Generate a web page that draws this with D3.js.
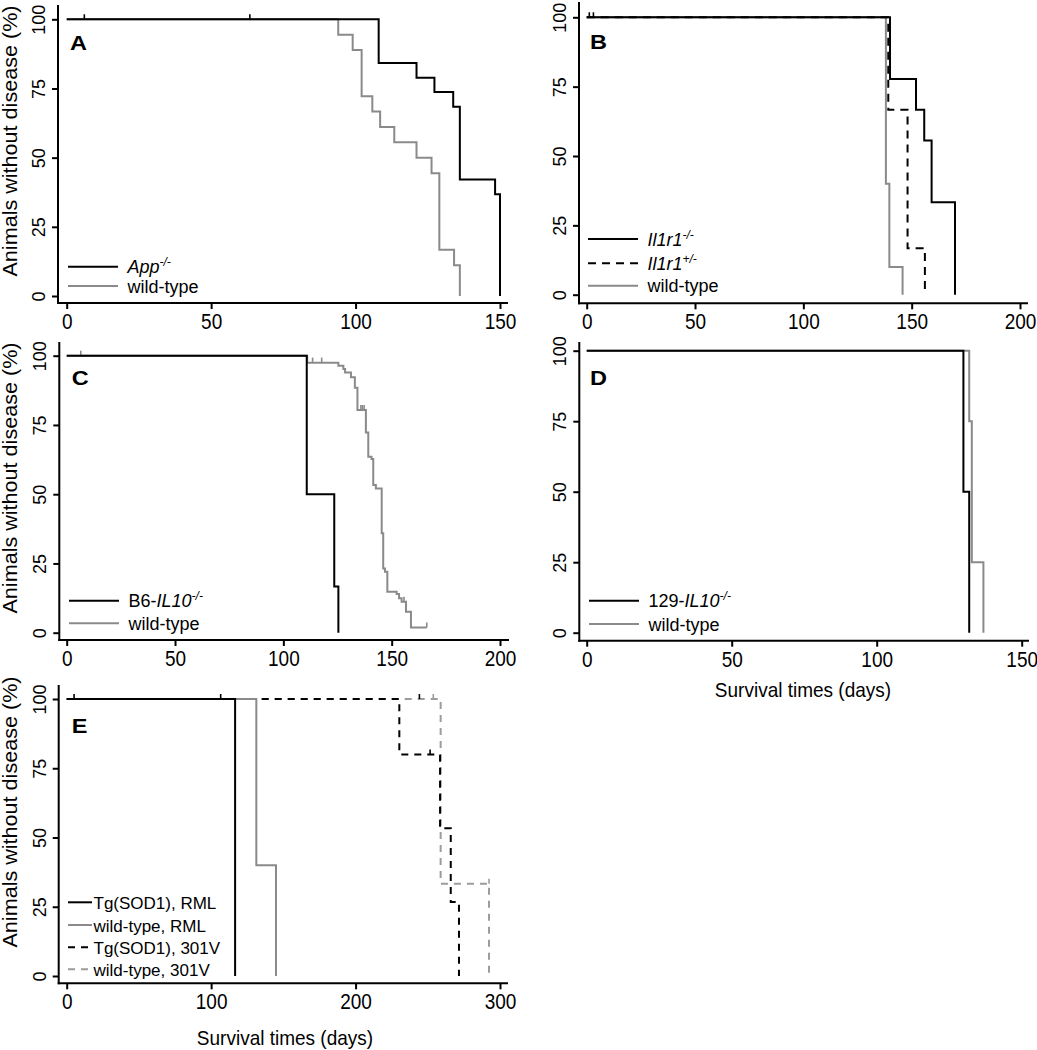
<!DOCTYPE html>
<html>
<head>
<meta charset="utf-8">
<script src="https://cdn.jsdelivr.net/npm/d3@7"></script>
<style>
body { margin: 0; background: #fff; }
text { font-family: "Liberation Sans", Arial, Helvetica, sans-serif; fill: #000; }
</style>
</head>
<body>
<div id="chart"></div>
<script>
// ---- data (days, % without disease) ----
// A
var aAppT = [0, 108, 121.1, 127.3, 133.8, 136.1, 148.3, 150];
var aAppS = [100, 84.2, 78.9, 73.7, 68.4, 42.1, 36.8, 0];
var aAppCens = [[6.1, 100], [63.4, 100]];
var aWtT = [0, 94, 99, 102.1, 105.8, 108.5, 113.4, 121.1, 126.3, 129, 134.1, 136.1];
var aWtS = [100, 94.4, 88.9, 72.2, 66.7, 61.1, 55.6, 50, 44.4, 16.7, 11.1, 0];
var aLabels = [[["App", "i"], ["-/-", "si"]], [["wild-type", ""]]];

// B
var bKoT = [0, 140, 152, 155.8, 159.2, 170];
var bKoS = [100, 77.8, 66.7, 55.6, 33.3, 0];
var bKoCens = [[1.2, 100], [3.1, 100]];
var bHetT = [0, 139.2, 148.1, 156.1];
var bHetS = [100, 66.7, 16.7, 0];
var bWtT = [0, 138.1, 139.7, 145.8];
var bWtS = [100, 40, 10, 0];
var bLabels = [[["Il1r1", "i"], ["-/-", "si"]], [["Il1r1", "i"], ["+/-", "si"]], [["wild-type", ""]]];

// C
var cKoT = [0, 110.8, 123.5, 125.4];
var cKoS = [100, 50, 16.7, 0];
var cWtT = [0, 111, 125.4, 127.7, 128.5, 131.2, 133.0, 134.2, 138.1, 139.2, 140.7, 141.5, 142.7,
            145.4, 146.1, 146.9, 148.0, 152.3, 153.4, 154.6, 156.6, 158.9, 166.2];
var cWtS = [100, 97.5, 96.4, 95.2, 93.9, 92.2, 88.4, 80.4, 72.3, 63.5, 62.7, 53.3, 52.1,
            35.9, 23.2, 22.0, 14.8, 14.0, 12.4, 11.2, 7.6, 1.9, 1.9];
var cWtCens = [[6.5, 100], [113.5, 97.5], [117.7, 97.5], [135.8, 80.4], [136.5, 80.4],
               [137.3, 80.4], [155.7, 11.2], [166.2, 1.9]];
var cLabels = [[["B6-", ""], ["IL10", "i"], ["-/-", "si"]], [["wild-type", ""]]];

// D
var dKoT = [0, 129.9, 131.9];
var dKoS = [100, 50, 0];
var dWtT = [0, 131.9, 132.8, 136.8];
var dWtS = [100, 75, 25, 0];
var dLabels = [[["129-", ""], ["IL10", "i"], ["-/-", "si"]], [["wild-type", ""]]];

// E
var eTgRmlT = [0, 116.6];
var eTgRmlS = [100, 0];
var eTgRmlCens = [[5.1, 100], [106.6, 100]];
var eWtRmlT = [0, 131.3, 144.9];
var eWtRmlS = [100, 40, 0];
var eTg301T = [0, 230.3, 258.5, 265.9, 271.6];
var eTg301S = [100, 80, 53.3, 26.7, 0];
var eTg301Cens = [[244.2, 100], [251.6, 80]];
var eWt301T = [0, 258.9, 292.4];
var eWt301S = [100, 33.3, 0];
var eWt301Cens = [[253.8, 100], [292.4, 33.3]];
var eLabels = [[["Tg(SOD1), RML", ""]], [["wild-type, RML", ""]], [["Tg(SOD1), 301V", ""]], [["wild-type, 301V", ""]]];

var ticks150 = [0, 50, 100, 150];
var ticks200 = [0, 50, 100, 150, 200];
var ticks300 = [0, 100, 200, 300];
var yTicks = [0, 25, 50, 75, 100];

var BLACK = "#000", GRAY = "#8a8a8a", LIGHT = "#9c9c9c";

var svg = d3.select("#chart").append("svg")
    .attr("width", 1037)
    .attr("height", 1050);

var panels = [
  { letter: "A", xMax: 150, xTicks: ticks150, x0: 66.7, x1: 500, y0: 296, y1: 19.3,
    axisX: 58, axisY: 303, axisTop: 5, axisRight: 508, letterX: 70, letterY: 50,
    legX0: 68, legX1: 118, legGap: 9.5, legFont: 18, legY: [266.7, 286], yTitle: 141,
    series: [
      { t: aWtT, s: aWtS, color: GRAY, dash: null },
      { t: aAppT, s: aAppS, color: BLACK, dash: null, cens: aAppCens }
    ], legendOrder: [1, 0], labels: aLabels },
  { letter: "B", xMax: 200, xTicks: ticks200, x0: 586.7, x1: 1020, y0: 294.7, y1: 17.3,
    axisX: 579, axisY: 303.3, axisTop: 2, axisRight: 1028, letterX: 590, letterY: 49.3,
    legX0: 588, legX1: 638, legGap: 9.5, legFont: 18, legY: [239, 263.3, 285.7],
    series: [
      { t: bWtT, s: bWtS, color: GRAY, dash: null },
      { t: bHetT, s: bHetS, color: BLACK, dash: "8,6" },
      { t: bKoT, s: bKoS, color: BLACK, dash: null, cens: bKoCens }
    ], legendOrder: [2, 1, 0], labels: bLabels },
  { letter: "C", xMax: 200, xTicks: ticks200, x0: 66.7, x1: 500, y0: 632.7, y1: 355.7,
    axisX: 59.3, axisY: 640, axisTop: 342, axisRight: 509, letterX: 71.7, letterY: 385,
    legX0: 69, legX1: 119, legGap: 9.5, legFont: 18, legY: [600.7, 623.3], yTitle: 478,
    series: [
      { t: cWtT, s: cWtS, color: GRAY, dash: null, cens: cWtCens },
      { t: cKoT, s: cKoS, color: BLACK, dash: null }
    ], legendOrder: [1, 0], labels: cLabels },
  { letter: "D", xMax: 150, xTicks: ticks150, x0: 586.7, x1: 1021.7, y0: 632.7, y1: 350.7,
    axisX: 579.3, axisY: 640.7, axisTop: 342, axisRight: 1029, letterX: 590, letterY: 385,
    legX0: 589, legX1: 639, legGap: 9.5, legFont: 18, legY: [600.7, 624], xTitle: [803, 697],
    series: [
      { t: dWtT, s: dWtS, color: GRAY, dash: null },
      { t: dKoT, s: dKoS, color: BLACK, dash: null }
    ], legendOrder: [1, 0], labels: dLabels },
  { letter: "E", xMax: 300, xTicks: ticks300, x0: 66.7, x1: 500, y0: 976, y1: 699,
    axisX: 58.7, axisY: 983.3, axisTop: 685, axisRight: 508, letterX: 71.7, letterY: 733.3,
    legX0: 68, legX1: 92, legGap: 1.5, legFont: 17, legY: [902.3, 925, 947.3, 969.3],
    yTitle: 812, xTitle: [285, 1045],
    series: [
      { t: eWt301T, s: eWt301S, color: LIGHT, dash: "7,6", cens: eWt301Cens },
      { t: eTg301T, s: eTg301S, color: BLACK, dash: "7,6", cens: eTg301Cens },
      { t: eWtRmlT, s: eWtRmlS, color: GRAY, dash: null },
      { t: eTgRmlT, s: eTgRmlS, color: BLACK, dash: null, cens: eTgRmlCens }
    ], legendOrder: [3, 2, 1, 0], labels: eLabels }
];

function addLabel(text, parts) {
  parts.forEach(function(p) {
    var ts = text.append("tspan").text(p[0]);
    if (p[1].indexOf("i") >= 0) ts.style("font-style", "italic");
    if (p[1].indexOf("s") >= 0) ts.attr("font-size", 12).attr("dy", -7);
  });
}

function drawPanel(p) {
  var x = d3.scaleLinear().domain([0, p.xMax]).range([p.x0, p.x1]);
  var y = d3.scaleLinear().domain([0, 100]).range([p.y0, p.y1]);
  var g = svg.append("g");

  // axis lines (longer than the scale range, as in the original)
  g.append("line").attr("x1", p.axisX).attr("x2", p.axisX)
    .attr("y1", p.axisTop).attr("y2", p.axisY + 1)
    .attr("stroke", "#000").attr("stroke-width", 2);
  g.append("line").attr("x1", p.axisX - 1).attr("x2", p.axisRight)
    .attr("y1", p.axisY).attr("y2", p.axisY)
    .attr("stroke", "#000").attr("stroke-width", 2);

  var xa = g.append("g")
    .attr("transform", "translate(0," + p.axisY + ")")
    .call(d3.axisBottom(x).tickValues(p.xTicks).tickSize(6).tickSizeOuter(0));
  var ya = g.append("g")
    .attr("transform", "translate(" + p.axisX + ",0)")
    .call(d3.axisLeft(y).tickValues(yTicks).tickSize(6).tickSizeOuter(0));
  [xa, ya].forEach(function(a) {
    a.select(".domain").remove();
    a.selectAll(".tick line").attr("stroke-width", 2);
    a.selectAll("text").attr("font-family", null);
  });
  xa.selectAll(".tick text")
    .attr("font-size", 19)
    .attr("y", 0).attr("dy", 0)
    .attr("transform", "translate(0,26) scale(1,1.15)");
  ya.selectAll(".tick text")
    .attr("font-size", 18)
    .attr("x", 0).attr("y", -13).attr("dy", 0)
    .attr("text-anchor", "middle")
    .attr("transform", "rotate(-90)");

  // curves
  var line = d3.line()
    .x(function(d) { return x(d[0]); })
    .y(function(d) { return y(d[1]); })
    .curve(d3.curveStepAfter);

  p.series.forEach(function(s) {
    g.append("path")
      .datum(d3.zip(s.t, s.s))
      .attr("fill", "none")
      .attr("stroke", s.color)
      .attr("stroke-width", 2)
      .attr("stroke-dasharray", s.dash)
      .attr("d", line);
    if (s.cens) {
      g.selectAll(null).data(s.cens).enter().append("line")
        .attr("x1", function(d) { return x(d[0]); })
        .attr("x2", function(d) { return x(d[0]); })
        .attr("y1", function(d) { return y(d[1]); })
        .attr("y2", function(d) { return y(d[1]) - 5; })
        .attr("stroke", s.color)
        .attr("stroke-width", 1.6);
    }
  });

  // panel letter
  g.append("text")
    .attr("transform", "translate(" + p.letterX + "," + p.letterY + ") scale(1.12,1)")
    .attr("font-size", 21).attr("font-weight", "bold").text(p.letter);

  // legend
  p.legendOrder.forEach(function(si, k) {
    var s = p.series[si];
    var ly = p.legY[k];
    g.append("line").attr("x1", p.legX0).attr("x2", p.legX1)
      .attr("y1", ly).attr("y2", ly)
      .attr("stroke", s.color).attr("stroke-width", 2)
      .attr("stroke-dasharray", s.dash);
    var t = g.append("text").attr("x", p.legX1 + p.legGap).attr("y", ly + 6.5)
      .attr("font-size", p.legFont);
    addLabel(t, p.labels[k]);
  });

  if (p.yTitle) {
    g.append("text")
      .attr("transform", "translate(17," + p.yTitle + ") rotate(-90) scale(1.08,1)")
      .attr("text-anchor", "middle").attr("font-size", 20)
      .text("Animals without disease (%)");
  }
  if (p.xTitle) {
    g.append("text")
      .attr("transform", "translate(" + p.xTitle[0] + "," + p.xTitle[1] + ") scale(1,1.1)")
      .attr("text-anchor", "middle").attr("font-size", 19)
      .text("Survival times (days)");
  }
}

panels.forEach(drawPanel);
</script>
</body>
</html>
